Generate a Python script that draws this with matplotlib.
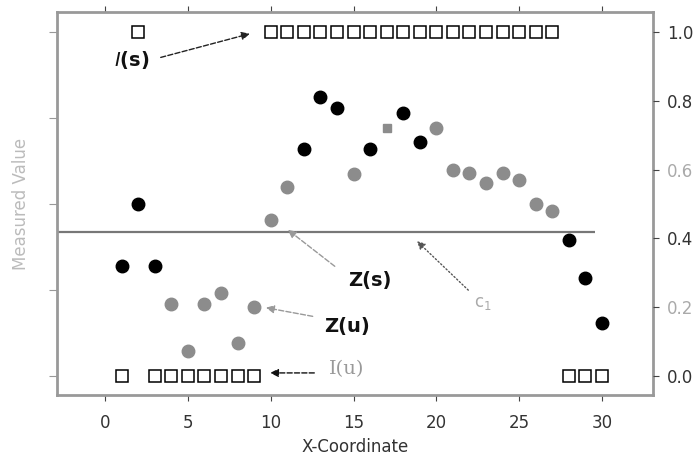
import numpy as np
import matplotlib.pyplot as plt

# black dots
black_x = [1, 2, 3, 12, 13, 14, 16, 18, 19, 28, 29, 30]
black_y = [0.32, 0.50, 0.32, 0.66, 0.81, 0.78, 0.66, 0.765, 0.68, 0.395, 0.285, 0.155]

# gray dots
gray_x = [4, 5, 6, 7, 8, 9, 10, 11, 15, 20, 21, 22, 23, 24, 25, 26, 27]
gray_y = [0.21, 0.073, 0.21, 0.24, 0.096, 0.20, 0.453, 0.55, 0.587, 0.72,
          0.60, 0.59, 0.56, 0.59, 0.57, 0.50, 0.48]

# odd gray square marker
gsq_x = [17]
gsq_y = [0.72]

# indicator squares
ind_hi_x = [2] + list(range(10, 28))
ind_lo_x = [1, 3, 4, 5, 6, 7, 8, 9, 28, 29, 30]

level_c1 = 0.42

right_ticks = [0.0, 0.2, 0.4, 0.6, 0.8, 1.0]
right_labels = ['0.0', '0.2', '0.4', '0.6', '0.8', '1.0']
right_colors = ['#333333', '#aaaaaa', '#333333', '#aaaaaa', '#333333', '#333333']
left_ticks = [0.0, 0.25, 0.5, 0.75, 1.0]
x_ticks = [0, 5, 10, 15, 20, 25, 30]

plt.rcParams['font.family'] = ['DejaVu Sans']

fig = plt.figure(figsize=(7, 4.63), dpi=100)
ax = fig.add_axes([0.0814, 0.147, 0.852, 0.827])

ax.set_xlim(-2.9, 33.1)
ax.set_ylim(-0.055, 1.058)

ax.hlines(level_c1, -2.9, 29.6, color='#777777', lw=1.6, zorder=1)

ax.plot(ind_hi_x, [1.0] * len(ind_hi_x), 's', ms=8, mfc='white', mec='black', mew=1.1, zorder=3)
ax.plot(ind_lo_x, [0.0] * len(ind_lo_x), 's', ms=8, mfc='white', mec='black', mew=1.1, zorder=3)
ax.plot(gray_x, gray_y, 'o', ms=9, color='#8c8c8c', zorder=3)
ax.plot(gsq_x, gsq_y, 's', ms=6, color='#8c8c8c', zorder=3)
ax.plot(black_x, black_y, 'o', ms=9, color='black', zorder=4)

# spines and ticks
for s in ax.spines.values():
    s.set_color('#999999')
    s.set_linewidth(2)

ax.set_xticks(x_ticks)
ax.set_xticklabels([str(t) for t in x_ticks], fontsize=12, color='#333333')
ax.tick_params(axis='x', direction='out', length=4, color='#444444', top=True, pad=10)
ax.set_yticks(left_ticks)
ax.set_yticklabels([])
ax.tick_params(axis='y', direction='out', length=6, color='#999999')

ax2 = ax.twinx()
ax2.set_ylim(ax.get_ylim())
ax2.set_yticks(right_ticks)
ax2.set_yticklabels(right_labels, fontsize=12)
for lbl, c in zip(ax2.get_yticklabels(), right_colors):
    lbl.set_color(c)
ax2.tick_params(axis='y', direction='out', length=4, color='#444444', pad=6)
for s in ax2.spines.values():
    s.set_visible(False)

ax.set_xlabel('X-Coordinate', fontsize=12, color='#333333', labelpad=4)
ax.set_ylabel('Measured Value', fontsize=12, color='#bbbbbb', labelpad=10)

# annotations
ax.text(1.6, 0.919, r'$I$(s)', fontsize=14, fontweight='bold', color='#111111', ha='center', va='center')
ax.annotate('', xy=(8.9, 0.997), xytext=(3.2, 0.924),
            arrowprops=dict(arrowstyle='-|>', color='#222222', lw=1, ls='--', mutation_scale=12))

ax.text(16.0, 0.279, 'Z(s)', fontsize=14, fontweight='bold', color='#111111', ha='center', va='center')
ax.annotate('', xy=(10.9, 0.43), xytext=(14.0, 0.314),
            arrowprops=dict(arrowstyle='-|>', color='#999999', lw=1, ls='--', mutation_scale=12))

ax.text(14.6, 0.145, 'Z(u)', fontsize=14, fontweight='bold', color='#111111', ha='center', va='center')
ax.annotate('', xy=(9.55, 0.20), xytext=(12.7, 0.172),
            arrowprops=dict(arrowstyle='-|>', color='#999999', lw=1, ls='--', mutation_scale=12))

ax.text(14.6, 0.02, 'I(u)', fontsize=14, family='DejaVu Serif', color='#999999', ha='center', va='center')
ax.annotate('', xy=(9.8, 0.009), xytext=(12.8, 0.009),
            arrowprops=dict(arrowstyle='-|>', color='#111111', lw=1, ls='--', mutation_scale=12))

ax.text(22.8, 0.212, r'c$_1$', fontsize=12, color='#aaaaaa', ha='center', va='center')
ax.annotate('', xy=(18.7, 0.398), xytext=(22.05, 0.244),
            arrowprops=dict(arrowstyle='-|>', color='#555555', lw=1, ls=':', mutation_scale=12))

fig.savefig('out.png', dpi=100)
